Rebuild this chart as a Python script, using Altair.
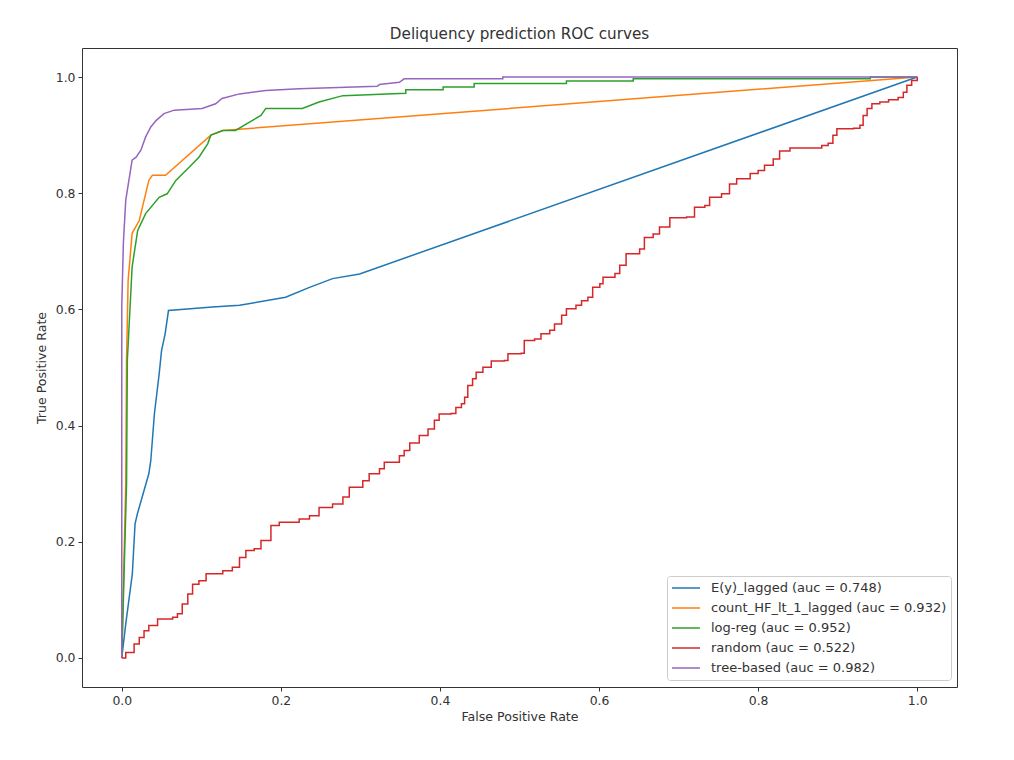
import altair as alt
import pandas as pd

# ---- data ----
ey_fpr = [0.0, 0.005, 0.0133, 0.0167, 0.0196, 0.034, 0.0365, 0.041, 0.047, 0.050, 0.0545, 0.0587,
          0.114, 0.148, 0.206, 0.236, 0.265, 0.299, 1.0]
ey_tpr = [0.0, 0.0586, 0.145, 0.231, 0.248, 0.317, 0.340, 0.420, 0.489, 0.529, 0.558, 0.598,
          0.604, 0.607, 0.621, 0.638, 0.653, 0.661, 1.0]

hf_fpr = [0.0, 0.005, 0.006, 0.008, 0.013, 0.022, 0.034, 0.0385, 0.055, 0.112, 0.127, 1.0]
hf_tpr = [0.0, 0.30, 0.512, 0.650, 0.731, 0.753, 0.822, 0.831, 0.831, 0.900, 0.908, 1.0]

lr_fpr = [0.0, 0.006, 0.007, 0.013, 0.020, 0.030, 0.047, 0.057, 0.068, 0.085, 0.097, 0.108, 0.112,
          0.127, 0.143, 0.160, 0.175, 0.181, 0.227, 0.248, 0.278, 0.357, 0.357, 0.404, 0.404,
          0.443, 0.443, 0.559, 0.559, 0.643, 0.643, 0.941, 0.941, 1.0]
lr_tpr = [0.0, 0.30, 0.512, 0.673, 0.736, 0.765, 0.793, 0.799, 0.822, 0.845, 0.862, 0.885, 0.900,
          0.908, 0.908, 0.922, 0.934, 0.946, 0.946, 0.957, 0.968, 0.972, 0.978, 0.978, 0.983,
          0.983, 0.989, 0.989, 0.993, 0.993, 0.997, 0.997, 1.0, 1.0]

rnd_fpr = [0.0, 0.005, 0.0155, 0.022, 0.028, 0.034, 0.045, 0.064, 0.070, 0.076, 0.083, 0.089, 0.097,
           0.106, 0.127, 0.139, 0.148, 0.156, 0.1665, 0.175, 0.1875, 0.198, 0.223, 0.236, 0.248,
           0.265, 0.278, 0.286, 0.303, 0.311, 0.324, 0.330, 0.345, 0.349, 0.355, 0.362, 0.374,
           0.385, 0.393, 0.399, 0.414, 0.420, 0.427, 0.431, 0.435, 0.441, 0.4455, 0.454, 0.4645,
           0.481, 0.4855, 0.502, 0.506, 0.519, 0.527, 0.538, 0.544, 0.553, 0.559, 0.571, 0.578,
           0.586, 0.592, 0.601, 0.605, 0.620, 0.626, 0.634, 0.651, 0.657, 0.668, 0.676, 0.689,
           0.710, 0.720, 0.733, 0.739, 0.754, 0.764, 0.773, 0.790, 0.800, 0.808, 0.819, 0.827,
           0.840, 0.8735, 0.880, 0.888, 0.894, 0.899, 0.920, 0.928, 0.932, 0.937, 0.943, 0.953,
           0.964, 0.976, 0.9825, 0.987, 0.993, 1.0]
rnd_tpr = [0.0, 0.0096, 0.024, 0.035, 0.047, 0.056, 0.067, 0.070, 0.076, 0.093, 0.110, 0.127, 0.133,
           0.145, 0.150, 0.156, 0.173, 0.185, 0.188, 0.202, 0.228, 0.2335, 0.239, 0.245, 0.259,
           0.265, 0.277, 0.294, 0.305, 0.317, 0.3255, 0.337, 0.337, 0.348, 0.357, 0.370, 0.383,
           0.394, 0.409, 0.420, 0.421, 0.431, 0.4375, 0.449, 0.469, 0.4805, 0.492, 0.5005, 0.511,
           0.512, 0.5236, 0.5246, 0.5465, 0.549, 0.558, 0.564, 0.575, 0.590, 0.601, 0.607, 0.615,
           0.621, 0.638, 0.644, 0.6555, 0.662, 0.676, 0.696, 0.704, 0.724, 0.730, 0.742, 0.758,
           0.759, 0.776, 0.779, 0.793, 0.799, 0.816, 0.825, 0.834, 0.839, 0.848, 0.859, 0.8725,
           0.878, 0.878, 0.882, 0.886, 0.900, 0.911, 0.912, 0.917, 0.934, 0.946, 0.954, 0.957,
           0.961, 0.965, 0.974, 0.986, 0.994, 1.0]

tb_fpr = [0.0, 0.0, 0.0, 0.002, 0.005, 0.013, 0.018, 0.024, 0.030, 0.0365, 0.043, 0.053, 0.066,
          0.101, 0.118, 0.126, 0.148, 0.181, 0.223, 0.321, 0.324, 0.349, 0.355, 0.479, 0.479, 1.0]
tb_tpr = [0.0, 0.512, 0.604, 0.714, 0.788, 0.857, 0.862, 0.874, 0.897, 0.914, 0.925, 0.937, 0.943,
          0.946, 0.954, 0.963, 0.971, 0.977, 0.980, 0.984, 0.987, 0.991, 0.997, 0.997, 1.0, 1.0]

series_names = ["E(y)_lagged (auc = 0.748)",
                "count_HF_lt_1_lagged (auc = 0.932)",
                "log-reg (auc = 0.952)",
                "random (auc = 0.522)",
                "tree-based (auc = 0.982)"]
series_colors = ["#1f77b4", "#ff7f0e", "#2ca02c", "#d62728", "#9467bd"]
series_data = [(ey_fpr, ey_tpr), (hf_fpr, hf_tpr), (lr_fpr, lr_tpr),
               (rnd_fpr, rnd_tpr), (tb_fpr, tb_tpr)]

rows = []
for k, (name, (fx, fy)) in enumerate(zip(series_names, series_data)):
    for i, (a, b) in enumerate(zip(fx, fy)):
        rows.append({"series": name, "fpr": a, "tpr": b, "idx": i, "step": k == 3})
df = pd.DataFrame(rows)

tick_vals = [0.0, 0.2, 0.4, 0.6, 0.8, 1.0]
FONT = "DejaVu Sans"

axis_common = dict(values=tick_vals, format=".1f", grid=False, domain=False,
                   tickSize=4, tickColor="#333", labelColor="#333",
                   labelFontSize=12.4, labelPadding=3, titleFontSize=12.6,
                   titleFontWeight="normal", titleColor="#333",
                   labelFont=FONT, titleFont=FONT, labelFlush=False)

base = alt.Chart(df).encode(
    x=alt.X("fpr:Q", title="False Positive Rate",
            scale=alt.Scale(domain=[-0.05, 1.05], nice=False, zero=False),
            axis=alt.Axis(titlePadding=4, **axis_common)),
    y=alt.Y("tpr:Q", title="True Positive Rate",
            scale=alt.Scale(domain=[-0.05, 1.05], nice=False, zero=False),
            axis=alt.Axis(titlePadding=7, **axis_common)),
    color=alt.Color("series:N", sort=series_names,
                    scale=alt.Scale(domain=series_names, range=series_colors),
                    legend=alt.Legend(title=None, orient="none", legendX=585, legendY=528,
                                      symbolType="stroke", symbolSize=784,
                                      symbolStrokeWidth=1.5, labelFontSize=13,
                                      labelFont=FONT, labelColor="#333",
                                      fillColor="white", strokeColor="#cccccc",
                                      padding=4, cornerRadius=3, rowPadding=4,
                                      clipHeight=16, labelOffset=10, labelLimit=400)),
    order="idx:Q",
)

lines = base.transform_filter(alt.datum.step == False).mark_line(strokeWidth=1.5, clip=True)
stairs = base.transform_filter(alt.datum.step == True).mark_line(
    strokeWidth=1.5, clip=True, interpolate="step-after")

chart = alt.layer(lines, stairs).properties(
    width=875, height=639,
    title=alt.TitleParams("Deliquency prediction ROC curves", fontSize=15.2,
                          font=FONT, fontWeight="normal", color="#333", offset=6),
    autosize=alt.AutoSizeParams(type="none"),
    padding={"left": 74, "top": 40, "right": 49, "bottom": 65},
).configure_view(stroke="#333", strokeWidth=1)

chart.save("out.html", embed_options={"renderer": "svg", "actions": False})
